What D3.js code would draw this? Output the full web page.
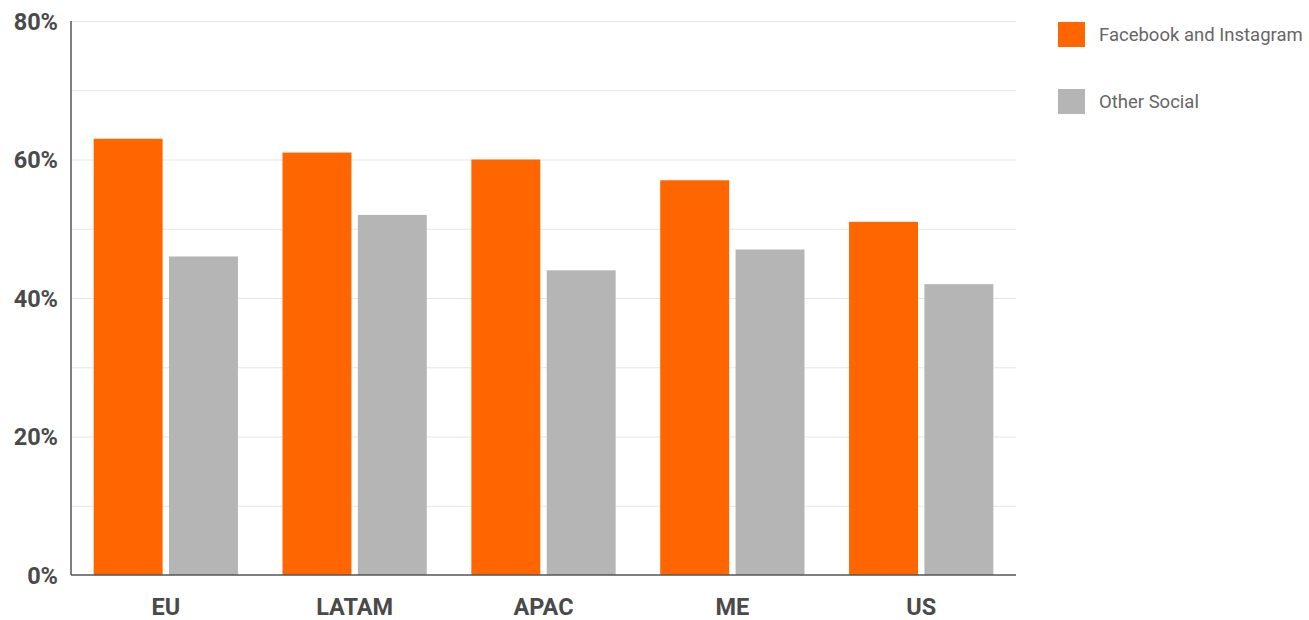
<!DOCTYPE html>
<html>
<head>
<meta charset="utf-8">
<script src="https://cdn.jsdelivr.net/npm/d3@7"></script>
<style>
  html, body { margin: 0; padding: 0; background: #fff; }
  svg { display: block; font-family: Roboto, "Noto Sans", sans-serif; }
</style>
</head>
<body>
<svg id="chart" width="1309" height="620"></svg>
<script>
// Share of respondents by region
const regions = ["EU", "LATAM", "APAC", "ME", "US"];
const seriesNames = ["Facebook and Instagram", "Other Social"];
const facebookInstagram = [63, 61, 60, 57, 51];
const otherSocial = [46, 52, 44, 47, 42];
const yTicks = [0, 20, 40, 60, 80];
const gridValues = [10, 20, 30, 40, 50, 60, 70, 80];
const colors = ["#ff6600", "#b5b5b5"];

const seriesValues = [facebookInstagram, otherSocial];

const svg = d3.select("#chart");
const plotLeft = 71, plotRight = 1016, plotTop = 21, plotBottom = 575;

const x0 = d3.scaleBand().domain(regions).range([plotLeft, plotRight])
  .paddingInner(0.236).paddingOuter(0.12);
const x1 = d3.scaleBand().domain(seriesNames).range([0, x0.bandwidth()])
  .paddingInner(0.085);
const y = d3.scaleLinear().domain([0, 80]).range([plotBottom, plotTop]);

// gridlines
svg.append("g")
  .selectAll("line")
  .data(gridValues)
  .join("line")
  .attr("x1", plotLeft).attr("x2", plotRight)
  .attr("y1", d => y(d) + 0.5).attr("y2", d => y(d) + 0.5)
  .attr("stroke", "#e6e6e6").attr("stroke-width", 1);

// bars
const groups = svg.append("g")
  .selectAll("g")
  .data(regions)
  .join("g")
  .attr("transform", d => `translate(${x0(d)},0)`);

groups.selectAll("rect")
  .data((d, i) => seriesNames.map((s, k) => ({ s, v: seriesValues[k][i], k })))
  .join("rect")
  .attr("x", d => x1(d.s))
  .attr("width", x1.bandwidth())
  .attr("y", d => y(d.v))
  .attr("height", d => y(0) - y(d.v))
  .attr("fill", d => colors[d.k]);

// y axis
const yAxis = svg.append("g")
  .attr("transform", `translate(${plotLeft},0)`)
  .call(d3.axisLeft(y).tickValues(yTicks).tickFormat(d => d + "%").tickSize(0).tickPadding(13));
yAxis.select(".domain").attr("stroke", "#555").attr("stroke-width", 1.5)
  .attr("d", `M0,${plotTop}V${plotBottom}`);
yAxis.selectAll("text")
  .attr("font-size", 23.5).attr("font-weight", "bold").attr("fill", "#4a4a4a")
  .attr("font-family", "Roboto, sans-serif")
  .attr("dy", "0.36em");

// x axis
const xAxis = svg.append("g")
  .attr("transform", `translate(0,${plotBottom})`)
  .call(d3.axisBottom(x0).tickSize(0).tickPadding(23));
xAxis.select(".domain").attr("stroke", "#555").attr("stroke-width", 1.5)
  .attr("d", `M${plotLeft},0H${plotRight}`);
xAxis.selectAll("text")
  .attr("font-size", 23.5).attr("font-weight", "bold").attr("fill", "#4a4a4a")
  .attr("font-family", "Roboto, sans-serif");

// legend
const legend = svg.append("g")
  .selectAll("g")
  .data(seriesNames)
  .join("g")
  .attr("transform", (d, i) => `translate(1058,${22 + i * 67})`);
legend.append("rect")
  .attr("width", 27).attr("height", 25)
  .attr("fill", (d, i) => colors[i]);
legend.append("text")
  .attr("x", 41).attr("y", 12.5).attr("dy", "0.33em")
  .attr("font-size", 18.5).attr("fill", "#666")
  .text(d => d);
</script>
</body>
</html>
